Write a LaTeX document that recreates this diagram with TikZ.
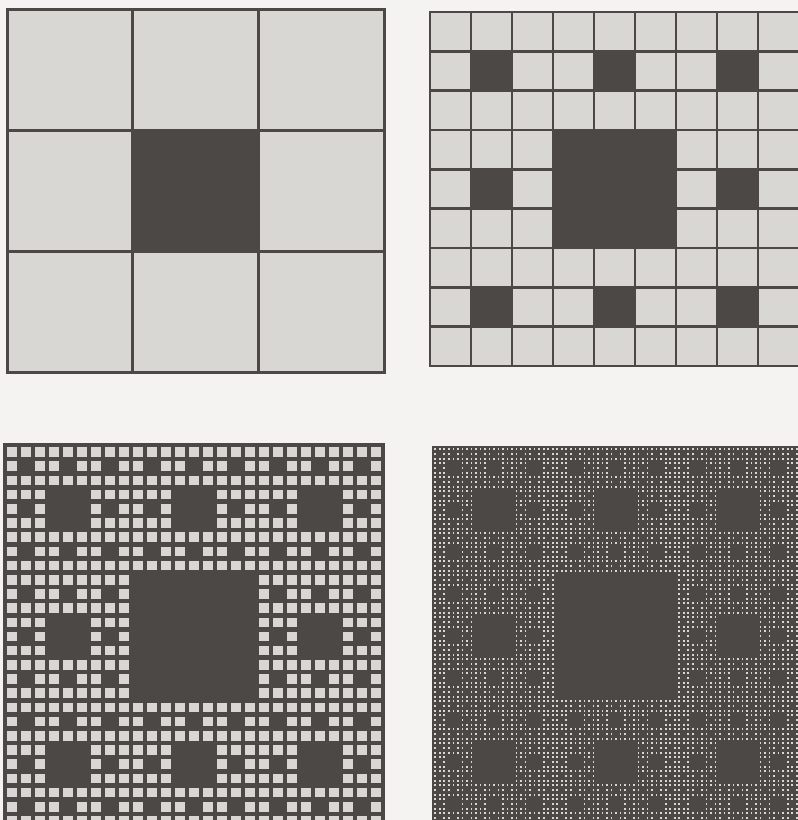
\documentclass[tikz,border=0pt]{standalone}
\usetikzlibrary{calc}
\definecolor{paper}{HTML}{F5F3F1}
\definecolor{lightc}{HTML}{D9D7D4}
\definecolor{darkc}{HTML}{4B4845}
\newcommand\carpetpanel[6]{% x0 y0 w h n lw
  \fill[lightc] (#1,#2) rectangle ++(#3,#4);
  \foreach \m in {1,...,#5}{
    \pgfmathtruncatemacro\cnt{3^(\m-1)-1}
    \pgfmathsetmacro\cw{#3/3^\m}
    \pgfmathsetmacro\ch{#4/3^\m}
    \foreach \a in {0,...,\cnt}{
      \foreach \b in {0,...,\cnt}{
        \fill[darkc] ({#1+(3*\a+1)*\cw},{#2+(3*\b+1)*\ch}) rectangle ++(\cw,\ch);
      }
    }
  }
  \pgfmathtruncatemacro\NN{3^#5}
  \pgfmathsetmacro\px{#3/\NN}
  \pgfmathsetmacro\py{#4/\NN}
  \foreach \k in {0,...,\NN}{
    \draw[gridline,line width=#6] ({#1+\px*\k},#2) -- ++(0,#4);
    \draw[gridline,line width=#6] (#1,{#2+\py*\k}) -- ++(#3,0);
  }
}
\tikzset{gridline/.style={draw=darkc,line cap=rect}}
\begin{document}
\begin{tikzpicture}[x=1pt,y=-1pt]
\useasboundingbox (0,0) rectangle (798,820);
\fill[paper] (0,0) rectangle (798,820);
\clip (0,0) rectangle (798,820);
% panel 1
\carpetpanel{7}{9}{377}{363}{1}{3}
% panel 2
\carpetpanel{430}{12}{369}{354}{2}{2.6}
% panel 3
\carpetpanel{5}{445}{378}{383}{3}{4.6}
% panel 4
\carpetpanel{433}{447}{366}{378}{4}{2.9}
\end{tikzpicture}
\end{document}
